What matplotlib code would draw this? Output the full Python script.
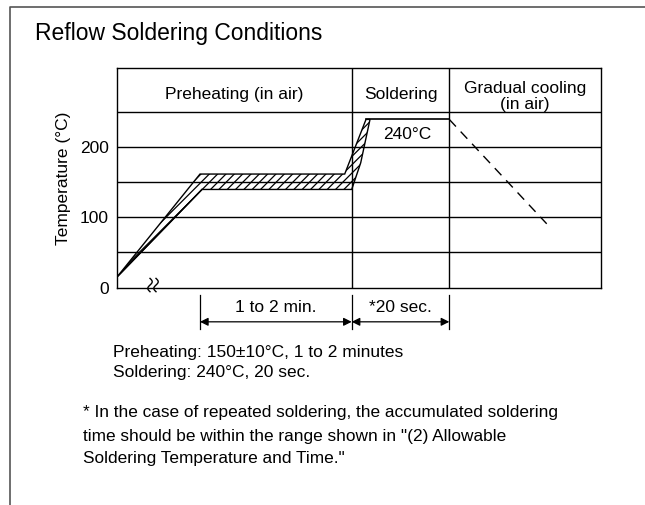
import numpy as np
import matplotlib.pyplot as plt
from matplotlib.patches import Polygon

plt.rcParams['font.family'] = ['Liberation Sans', 'DejaVu Sans']
plt.rcParams['hatch.linewidth'] = 0.9

W, H = 645, 505
FS = 12.5

# profile (x in schematic time units, y in deg C)
t_start, t_preheat, t_solder, t_peak, t_cool, t_end = 0, 83, 234.7, 253, 332.3, 484
temp_room = 15
preheat_lo, preheat_hi = 140, 162
temp_peak = 240
temp_cool_end = 91

yticks = [0, 100, 200]
grid_y = [50, 100, 150, 200, 250]
y_top = 313

phases = ["Preheating (in air)", "Soldering", "Gradual cooling\n(in air)"]
spans = ["1 to 2 min.", "*20 sec."]
notes = ["Preheating: 150\u00b110\u00b0C, 1 to 2 minutes", "Soldering: 240\u00b0C, 20 sec."]
footnote = ["* In the case of repeated soldering, the accumulated soldering",
            "time should be within the range shown in \"(2) Allowable",
            "Soldering Temperature and Time.\""]

fig = plt.figure(figsize=(W / 100, H / 100), dpi=100)

# outer frame of the page
frame = fig.add_axes([0, 0, 1, 1])
frame.set_xlim(0, W)
frame.set_ylim(H, 0)
frame.axis('off')
frame.plot([10, 10, W], [H, 7, 7], color='#555555', lw=1.2)

ax = fig.add_axes([117 / W, 1 - 287.5 / H, (601 - 117) / W, (287.5 - 68.3) / H])
ax.set_xlim(t_start, t_end)
ax.set_ylim(0, y_top)
for s in ax.spines.values():
    s.set_linewidth(1.0)

for g in grid_y:
    ax.axhline(g, color='black', lw=1.0)
for xv in [t_solder, t_cool]:
    ax.axvline(xv, color='black', lw=1.0)

ax.set_xticks([])
ax.set_yticks(yticks)
ax.tick_params(axis='y', length=0, labelsize=FS, pad=6)
ax.set_ylabel("Temperature (\u00b0C)", fontsize=FS, labelpad=6)

# phase headings
ax.text((t_start + t_solder) / 2, 275, phases[0], ha='center', va='center', fontsize=FS)
ax.text((t_solder + t_cool) / 2, 275, phases[1], ha='center', va='center', fontsize=FS)
ax.text((t_cool + t_end) / 2, 273, phases[2], ha='center', va='center', fontsize=FS,
        linespacing=1.05)

# hatched preheat / ramp band
band = [(t_start, temp_room), (t_preheat, preheat_hi), (t_solder - 7, preheat_hi),
        (t_peak - 4, temp_peak), (t_peak, temp_peak), (t_solder + 9, 178),
        (t_solder, preheat_lo), (t_preheat + 2, preheat_lo)]
ax.add_patch(Polygon(band, closed=True, facecolor='none', edgecolor='black',
                     hatch='////', lw=1.0))
ax.plot([t_start, t_preheat + 2], [temp_room, preheat_lo], color='black', lw=1.0)

# peak plateau and cooling
ax.plot([t_peak - 4, t_cool], [temp_peak, temp_peak], color='black', lw=1.2)
ax.plot([t_cool, 429.7], [temp_peak, temp_cool_end], color='black', lw=1.0,
        dashes=(7, 5))
ax.text(t_peak + 13, 219, "240\u00b0C", ha='left', va='center', fontsize=FS)

# axis break mark
s = np.linspace(0, 1, 40)
for x0 in [33, 39]:
    ax.plot(x0 - 2.2 * np.sin(2 * np.pi * s), -6 + 19 * s, color='black', lw=1.0,
            clip_on=False)

# duration dimensions below the axis
for xv in [t_preheat, t_solder, t_cool]:
    ax.plot([xv, xv], [-11, -59], color='black', lw=0.9, clip_on=False)
for (a, b), lab in zip([(t_preheat, t_solder), (t_solder, t_cool)], spans):
    ax.annotate('', xy=(a, -49), xytext=(b, -49),
                arrowprops=dict(arrowstyle='<|-|>', color='black', lw=0.9,
                                mutation_scale=12, shrinkA=0, shrinkB=0),
                annotation_clip=False)
    ax.text((a + b) / 2, -29, lab, ha='center', va='center', fontsize=FS)

fig.text(35 / W, 1 - 33 / H, "Reflow Soldering Conditions", ha='left', va='center',
         fontsize=16.5)
for i, line in enumerate(notes):
    fig.text(113 / W, 1 - (352 + 20 * i) / H, line, ha='left', va='center', fontsize=FS)
for i, line in enumerate(footnote):
    fig.text(83 / W, 1 - (413 + 23 * i) / H, line, ha='left', va='center', fontsize=12.4)

fig.savefig('out.png', dpi=100)
